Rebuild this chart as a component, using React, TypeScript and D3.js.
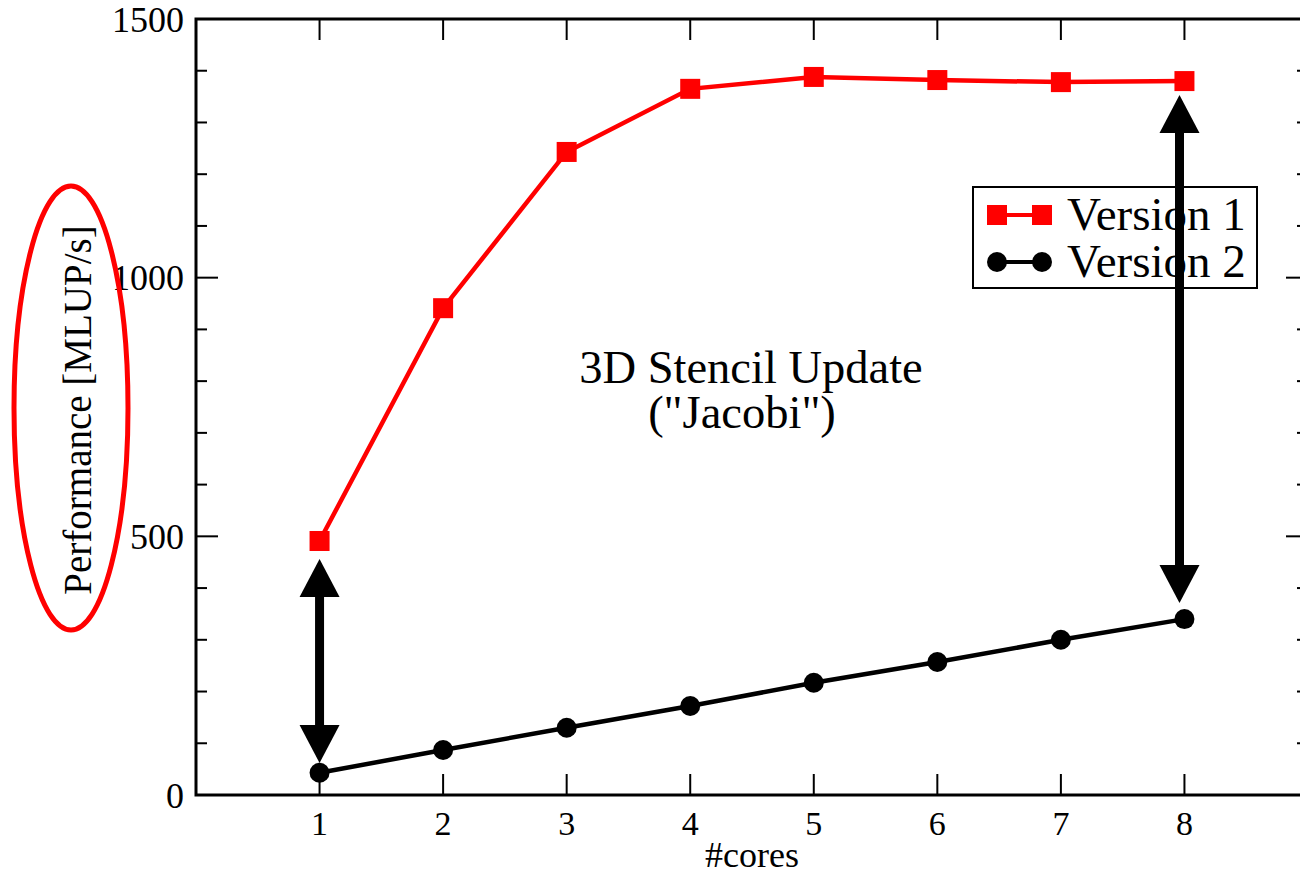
import React, { useRef, useEffect } from 'react';
import * as d3 from 'd3';

// data
const cores = [1, 2, 3, 4, 5, 6, 7, 8];
const version1 = [491, 941, 1243, 1365, 1388, 1382, 1378, 1380];
const version2 = [43, 87, 130, 172, 217, 257, 300, 340];
const yMajorTicks = [0, 500, 1000, 1500];
const yMinorTicks = [100, 200, 300, 400, 600, 700, 800, 900, 1100, 1200, 1300, 1400];
const seriesNames = ['Version 1', 'Version 2'];
// double arrows: x position and the two tip values
const arrows = [
  { x: 1, top: 456, bottom: 62 },
  { x: 7.96, top: 1353, bottom: 371 },
];

const FONT = "'Liberation Serif', 'Times New Roman', serif";

const App = () => {
  const svgRef = useRef<SVGSVGElement | null>(null);
  const width = 1300;
  const height = 877;

  useEffect(() => {
    const svg = d3.select(svgRef.current);
    svg.selectAll('*').remove();

    const x = d3.scaleLinear().domain([0, 9]).range([196, 1308]);
    const y = d3.scaleLinear().domain([0, 1500]).range([795, 19]);

    const axisColor = '#000';

    // frame
    svg
      .append('rect')
      .attr('x', x(0))
      .attr('y', y(1500))
      .attr('width', x(9) - x(0))
      .attr('height', y(0) - y(1500))
      .attr('fill', 'none')
      .attr('stroke', axisColor)
      .attr('stroke-width', 3);

    // x ticks bottom and top
    const xt = svg.append('g').attr('stroke', axisColor).attr('stroke-width', 2);
    cores.forEach(c => {
      xt.append('line').attr('x1', x(c)).attr('x2', x(c)).attr('y1', y(0)).attr('y2', y(0) - 21);
      xt.append('line').attr('x1', x(c)).attr('x2', x(c)).attr('y1', y(1500)).attr('y2', y(1500) + 21);
    });

    // y ticks left and right
    const yt = svg.append('g').attr('stroke', axisColor).attr('stroke-width', 2);
    yMajorTicks.forEach(v => {
      yt.append('line').attr('x1', x(0)).attr('x2', x(0) + 22).attr('y1', y(v)).attr('y2', y(v));
      yt.append('line').attr('x1', x(9)).attr('x2', x(9) - 22).attr('y1', y(v)).attr('y2', y(v));
    });
    yMinorTicks.forEach(v => {
      yt.append('line').attr('x1', x(0)).attr('x2', x(0) + 11).attr('y1', y(v)).attr('y2', y(v));
      yt.append('line').attr('x1', x(9)).attr('x2', x(9) - 11).attr('y1', y(v)).attr('y2', y(v));
    });

    // tick labels
    svg
      .append('g')
      .selectAll('text')
      .data(yMajorTicks)
      .enter()
      .append('text')
      .attr('x', x(0) - 12)
      .attr('y', d => y(d))
      .attr('dy', '0.35em')
      .attr('text-anchor', 'end')
      .attr('font-family', FONT)
      .attr('font-size', 36)
      .text(d => d);

    svg
      .append('g')
      .selectAll('text')
      .data(cores)
      .enter()
      .append('text')
      .attr('x', d => x(d))
      .attr('y', 835)
      .attr('text-anchor', 'middle')
      .attr('font-family', FONT)
      .attr('font-size', 34)
      .text(d => d);

    // axis labels
    svg
      .append('text')
      .attr('x', 752)
      .attr('y', 867)
      .attr('text-anchor', 'middle')
      .attr('font-family', FONT)
      .attr('font-size', 36)
      .text('#cores');

    svg
      .append('text')
      .attr('transform', 'translate(91, 410) rotate(-90)')
      .attr('text-anchor', 'middle')
      .attr('font-family', FONT)
      .attr('font-size', 39)
      .text('Performance [MLUP/s]');

    // red ellipse around the y label
    svg
      .append('ellipse')
      .attr('cx', 71)
      .attr('cy', 408)
      .attr('rx', 57)
      .attr('ry', 222)
      .attr('fill', 'none')
      .attr('stroke', '#ff0000')
      .attr('stroke-width', 5);

    // lines
    const line = d3
      .line<number>()
      .x((_, i) => x(cores[i]))
      .y(d => y(d));

    svg
      .append('path')
      .datum(version1)
      .attr('d', line)
      .attr('fill', 'none')
      .attr('stroke', '#ff0000')
      .attr('stroke-width', 4.5);

    svg
      .append('path')
      .datum(version2)
      .attr('d', line)
      .attr('fill', 'none')
      .attr('stroke', '#000')
      .attr('stroke-width', 4.5);

    // markers
    svg
      .append('g')
      .selectAll('rect')
      .data(version1)
      .enter()
      .append('rect')
      .attr('x', (_, i) => x(cores[i]) - 10)
      .attr('y', d => y(d) - 10)
      .attr('width', 20)
      .attr('height', 20)
      .attr('fill', '#ff0000');

    svg
      .append('g')
      .selectAll('circle')
      .data(version2)
      .enter()
      .append('circle')
      .attr('cx', (_, i) => x(cores[i]))
      .attr('cy', d => y(d))
      .attr('r', 10)
      .attr('fill', '#000');

    // annotation text
    const note = svg
      .append('text')
      .attr('text-anchor', 'middle')
      .attr('font-family', FONT)
      .attr('font-size', 46.5);
    note.append('tspan').attr('x', 751).attr('y', 383).text('3D Stencil Update');
    note.append('tspan').attr('x', 742).attr('y', 428).text('("Jacobi")');

    // legend
    const legend = svg.append('g').attr('transform', 'translate(973, 187)');
    legend
      .append('rect')
      .attr('width', 284)
      .attr('height', 101)
      .attr('fill', '#fff')
      .attr('stroke', '#000')
      .attr('stroke-width', 2);

    seriesNames.forEach((name, i) => {
      const row = legend.append('g').attr('transform', `translate(0, ${28 + i * 47})`);
      const color = i === 0 ? '#ff0000' : '#000';
      row
        .append('line')
        .attr('x1', 24)
        .attr('x2', 69)
        .attr('y1', 0)
        .attr('y2', 0)
        .attr('stroke', color)
        .attr('stroke-width', 4);
      [24, 69].forEach(cx => {
        if (i === 0) {
          row.append('rect').attr('x', cx - 10).attr('y', -10).attr('width', 20).attr('height', 20).attr('fill', color);
        } else {
          row.append('circle').attr('cx', cx).attr('cy', 0).attr('r', 10).attr('fill', color);
        }
      });
      row
        .append('text')
        .attr('x', 94)
        .attr('y', 15)
        .attr('font-family', FONT)
        .attr('font-size', 47)
        .text(name);
    });

    // double arrows
    const head = 38;
    const halfW = 20;
    arrows.forEach(a => {
      const ax = x(a.x);
      const yt0 = y(a.top);
      const yb0 = y(a.bottom);
      const g = svg.append('g').attr('fill', '#000');
      g.append('line')
        .attr('x1', ax)
        .attr('x2', ax)
        .attr('y1', yt0 + head - 2)
        .attr('y2', yb0 - head + 2)
        .attr('stroke', '#000')
        .attr('stroke-width', 9);
      g.append('path').attr(
        'd',
        `M${ax},${yt0}L${ax - halfW},${yt0 + head}L${ax + halfW},${yt0 + head}Z`
      );
      g.append('path').attr(
        'd',
        `M${ax},${yb0}L${ax - halfW},${yb0 - head}L${ax + halfW},${yb0 - head}Z`
      );
    });
  }, []);

  return (
    <svg
      ref={svgRef}
      width={width}
      height={height}
      style={{ position: 'absolute', left: 0, top: 0, background: '#fff' }}
    ></svg>
  );
};

export default App;
